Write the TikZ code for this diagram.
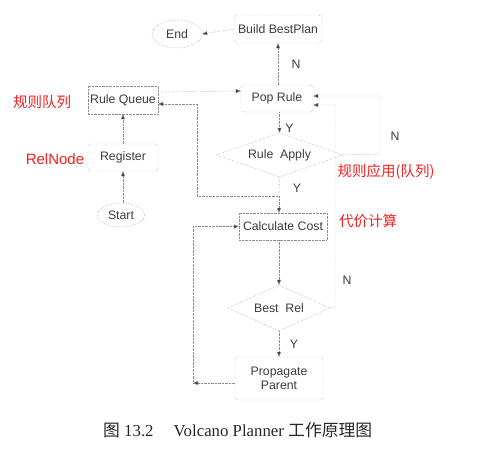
\documentclass[tikz,border=0pt]{standalone}
\usepackage{fontspec}
\setmainfont{Liberation Serif}
\setsansfont{Liberation Sans}
\newfontfamily\cjk{Noto Sans CJK SC}
\usetikzlibrary{shapes.geometric,arrows.meta}
\definecolor{ln}{HTML}{8A8A8A}
\definecolor{tx}{HTML}{3C3C3C}
\definecolor{rd}{HTML}{F52020}
\tikzset{
  base/.style={draw=ln, densely dotted, text=tx, font=\sffamily\fontsize{12.3}{14}\selectfont, inner sep=0pt},
  rbox/.style={base, rectangle, rounded corners=3pt},
  sbox/.style={base, rectangle},
  ell/.style={base, ellipse, densely dotted},
  dia/.style={base, diamond},
  arr/.style={draw=ln, densely dotted, -{Triangle[length=5pt,width=4pt,fill=tx]}},
  lnk/.style={draw=ln, densely dotted},
  lbl/.style={text=tx, font=\sffamily\fontsize{12.3}{14}\selectfont, inner sep=0pt},
  red/.style={text=rd, font=\cjk\fontsize{14.5}{16}\selectfont, inner sep=0pt},
}
\begin{document}
\begin{tikzpicture}[x=1pt,y=-1pt]
\useasboundingbox (0,0) rectangle (477,448);
% nodes
\node[ell, minimum width=50pt, minimum height=28pt] (end) at (177,34) {End};
\node[rbox, minimum width=88pt, minimum height=28pt] (bbp) at (278,29) {Build BestPlan};
\node[rbox, minimum width=72pt, minimum height=27pt] (pop) at (277,98.5) {Pop Rule};
\node[sbox, minimum width=70pt, minimum height=28pt] (rq) at (123,100) {Rule Queue};
\node[dia, aspect=2.9, minimum width=127pt, minimum height=44pt] (ra) at (279.5,155) {Rule\ \ Apply};
\node[sbox, minimum width=88pt, minimum height=27pt] (cc) at (283,226.5) {Calculate Cost};
\node[dia, aspect=2.3, minimum width=102pt, minimum height=46pt] (br) at (279,308) {Best\ \ Rel};
\node[rbox, minimum width=88pt, minimum height=43pt, align=center] (pp) at (279,378.5) {Propagate\\Parent};
\node[rbox, minimum width=70pt, minimum height=27pt] (reg) at (123,157.5) {Register};
\node[ell, minimum width=47pt, minimum height=24pt] (start) at (121,215) {Start};
% labels
\node[lbl] (ln1) at (296,64) {N};
\node[lbl] (ly1) at (289.5,128) {Y};
\node[lbl] (ln2) at (395,136) {N};
\node[lbl] (ly2) at (297,188) {Y};
\node[lbl] (ln3) at (347,280) {N};
\node[lbl] (ly3) at (294,344) {Y};
\node[red] (r1) at (42,102) {规则队列};
\node[red, font=\sffamily\fontsize{15}{17}\selectfont] (r2) at (55,159) {RelNode};
\node[red] (r3) at (386,172) {规则应用(队列)};
\node[red] (r4) at (368,221) {代价计算};
\node[anchor=west, inner sep=0pt, text=black!85, font=\fontsize{16.8}{19}\selectfont] (cap) at (103,430) {{\cjk 图} 13.2\hspace{1.2em}Volcano Planner {\cjk 工作原理图}};
% coordinates
\coordinate (s1) at (279,196);
\coordinate (j1) at (197,196);
\coordinate (n1) at (380,154);
\coordinate (n2) at (335,307);
\coordinate (l1) at (193,383);
% connectors
\draw[arr] (bbp.west) -- (end.east);
\draw[arr] (bbp.south |- pop.north) -- (bbp.south);
\draw[arr] ([yshift=8pt]rq.east) -- ([yshift=7.5pt]pop.west);
\draw[arr] (ra.north |- pop.south) -- (ra.north);
\draw[lnk] (ra.south) -- (s1);
\draw[arr] (s1) -- (s1 |- cc.north);
\draw[arr] (s1) -- (j1) |- ([yshift=-4pt]rq.east);
\draw[arr] (ra.east) -- (n1) |- ([yshift=2.5pt]pop.east);
\draw[arr] (br.east) -- (n2) |- ([yshift=-6.5pt]pop.east);
\draw[arr] (br.north |- cc.south) -- (br.north);
\draw[arr] (br.south) -- (br.south |- pp.north);
\draw[arr] ([yshift=-4.5pt]pp.west) -- (l1);
\draw[arr] (l1) |- (cc.west);
\draw[arr] (start.north -| reg.south) -- (reg.south);
\draw[arr] (reg.north) -- (rq.south);
\end{tikzpicture}
\end{document}
